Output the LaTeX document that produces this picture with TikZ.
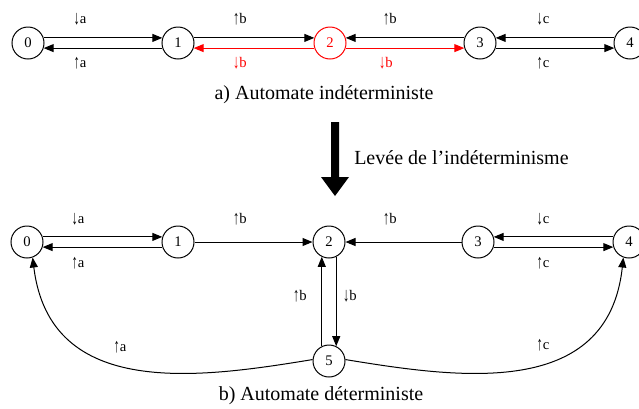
\documentclass[tikz,border=0pt]{standalone}
\usepackage{fontspec}
\usepackage{graphicx}
\setmainfont{Liberation Serif}
\usetikzlibrary{arrows.meta}
\newcommand{\upar}{\raisebox{-0.05em}{\scalebox{0.85}[1.35]{↑}}}
\newcommand{\dnar}{\raisebox{-0.05em}{\scalebox{0.85}[1.35]{↓}}}
\begin{document}
\begin{tikzpicture}[x=0.75pt,y=-0.75pt,
  state/.style={circle,draw,line width=0.75pt,minimum size=24pt,inner sep=0pt,font=\fontsize{11}{13}\selectfont},
  redstate/.style={state,draw=red,text=red},
  lbl/.style={font=\fontsize{11}{13}\selectfont,inner sep=0pt},
  redlbl/.style={lbl,text=red},
  captxt/.style={font=\fontsize{15}{18}\selectfont,inner sep=0pt},
  edge/.style={line width=0.75pt,-{Triangle[length=7.5pt,width=6pt]}},
  rededge/.style={edge,draw=red,-{Triangle[length=7.5pt,width=6pt,fill=red]}}]
\useasboundingbox (0,0) rectangle (639,408);
% ---- top automaton
\node[state] (a0) at (28,43) {0};
\node[state] (a1) at (178,43) {1};
\node[redstate] (a2) at (330,43) {2};
\node[state] (a3) at (480,43) {3};
\node[state] (a4) at (630,43) {4};
\draw[edge] (a0.18) -- (a1.162);
\draw[edge] (a1.198) -- (a0.-18);
\draw[edge] (a1.18) -- (a2.162);
\draw[rededge] (a2.198) -- (a1.-18);
\draw[edge] (a3.162) -- (a2.18);
\draw[rededge] (a2.-18) -- (a3.198);
\draw[edge] (a4.162) -- (a3.18);
\draw[edge] (a3.-18) -- (a4.198);
\node[lbl] (la1) at (80,19) {\dnar a};
\node[lbl] (la2) at (80,63) {\upar a};
\node[lbl] (la3) at (240,19) {\upar b};
\node[redlbl] (la4) at (240,63) {\dnar b};
\node[lbl] (la5) at (390,19) {\upar b};
\node[redlbl] (la6) at (386,63) {\dnar b};
\node[lbl] (la7) at (543,19) {\dnar c};
\node[lbl] (la8) at (543,63) {\upar c};
\node[captxt] (capa) at (324,95) {a) Automate indéterministe};
% ---- big arrow
\fill (331,122) -- (339,122) -- (339,177) -- (349,177) -- (335,196) -- (321,177) -- (331,177) -- cycle;
\node[captxt,anchor=west] (lev) at (354,158) {Levée de l’indéterminisme};
% ---- bottom automaton
\node[state] (b0) at (27,242) {0};
\node[state] (b1) at (178,242) {1};
\node[state] (b2) at (329,242) {2};
\node[state] (b3) at (478,242) {3};
\node[state] (b4) at (629,242) {4};
\node[state] (b5) at (329,361) {5};
\draw[edge] (b0.18) -- (b1.162);
\draw[edge] (b1.198) -- (b0.-18);
\draw[edge] (b1) -- (b2);
\draw[edge] (b3) -- (b2);
\draw[edge] (b4.162) -- (b3.18);
\draw[edge] (b3.-18) -- (b4.198);
\draw[edge] (b5.116) -- (b2.244);
\draw[edge] (b2.296) -- (b5.64);
\draw[edge] (b5.175) .. controls (200,378) and (50,400) .. (b0.290);
\draw[edge] (b5.5) .. controls (458,378) and (608,400) .. (b4.250);
\node[lbl] (lb1) at (78,219) {\dnar a};
\node[lbl] (lb2) at (78,263) {\upar a};
\node[lbl] (lb3) at (240,219) {\upar b};
\node[lbl] (lb4) at (390,219) {\upar b};
\node[lbl] (lb5) at (543,219) {\dnar c};
\node[lbl] (lb6) at (543,263) {\upar c};
\node[lbl] (lb7) at (300,296) {\upar b};
\node[lbl] (lb8) at (350,296) {\dnar b};
\node[lbl] (lb9) at (120,347) {\upar a};
\node[lbl] (lb10) at (543,345) {\upar c};
\node[captxt] (capb) at (321,396) {b) Automate déterministe};
\end{tikzpicture}
\end{document}
